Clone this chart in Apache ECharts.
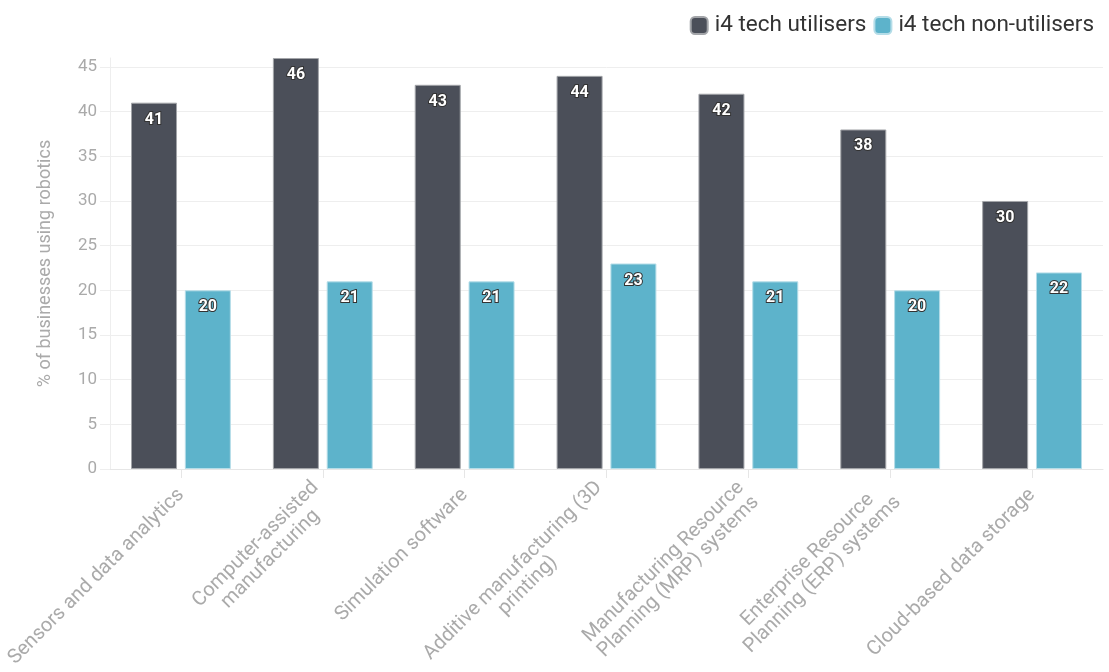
<!DOCTYPE html>
<html>
<head>
<meta charset="utf-8">
<script src="https://cdn.jsdelivr.net/npm/echarts@6/dist/echarts.min.js"></script>
<style>
  html, body { margin: 0; padding: 0; background: #ffffff; }
  #chart { width: 1109px; height: 672px; }
</style>
</head>
<body>
<div id="chart"></div>
<script>
// Technologies (line breaks where the axis labels wrap)
const categories = [
  'Sensors and data analytics',
  'Computer-assisted\nmanufacturing',
  'Simulation software',
  'Additive manufacturing (3D\nprinting)',
  'Manufacturing Resource\nPlanning (MRP) systems',
  'Enterprise Resource\nPlanning (ERP) systems',
  'Cloud-based data storage'
];
const seriesNames = ['i4 tech utilisers', 'i4 tech non-utilisers'];
const utilisers = [41, 46, 43, 44, 42, 38, 30];
const nonUtilisers = [20, 21, 21, 23, 21, 20, 22];
const yTicks = [0, 5, 10, 15, 20, 25, 30, 35, 40, 45];

const FONT = 'Roboto, "Noto Sans", sans-serif';
const chart = echarts.init(document.getElementById('chart'), null, { renderer: 'canvas' });

const valueLabel = {
  show: true,
  position: 'insideTop',
  distance: 9,
  color: '#ffffff',
  fontFamily: FONT,
  fontWeight: 'bold',
  fontSize: 16,
  textBorderColor: '#333333',
  textBorderWidth: 2
};

chart.setOption({
  animation: false,
  textStyle: { fontFamily: FONT },
  legend: {
    data: seriesNames,
    right: 10,
    top: 9,
    icon: 'roundRect',
    itemWidth: 17,
    itemHeight: 17,
    itemGap: 7,
    textStyle: { color: '#333333', fontSize: 22.5, fontFamily: FONT, padding: [0, 0, 0, 2] }
  },
  grid: {
    left: 110, right: 6, top: 58, bottom: 203,
    containLabel: false,
    outerBoundsMode: 'none'
  },
  xAxis: {
    type: 'category',
    data: categories,
    axisLine: { show: true, lineStyle: { color: '#e6e6e6', width: 1 } },
    axisTick: { show: true, alignWithLabel: true, length: 9, lineStyle: { color: '#e6e6e6' } },
    axisLabel: {
      interval: 0,
      rotate: 45,
      margin: 23,
      color: '#aaaaaa',
      fontSize: 20,
      fontFamily: FONT,
      lineHeight: 21,
      formatter: function (v) {
        return v.split('\n').map(function (l) { return '{c|' + l + '}'; }).join('\n');
      },
      rich: { c: { align: 'center', color: '#aaaaaa', fontSize: 20, fontFamily: FONT, lineHeight: 21 } }
    },
    splitLine: { show: false }
  },
  yAxis: {
    type: 'value',
    min: yTicks[0],
    max: 46,
    interval: yTicks[1] - yTicks[0],
    name: '% of businesses using robotics',
    nameLocation: 'middle',
    nameGap: 56,
    nameTextStyle: { color: '#aaaaaa', fontSize: 18, fontFamily: FONT },
    axisLine: { show: true, lineStyle: { color: '#eeeeee', width: 1 } },
    axisTick: { show: true, length: 10, inside: false, lineStyle: { color: '#eeeeee' } },
    axisLabel: {
      color: '#aaaaaa',
      fontSize: 17,
      fontFamily: FONT,
      margin: 13,
      showMaxLabel: false,
      formatter: function (v) { return yTicks.indexOf(v) >= 0 ? String(v) : ''; }
    },
    splitLine: { show: true, showMaxLine: false, lineStyle: { color: '#eeeeee', width: 1 } }
  },
  series: [
    {
      name: seriesNames[0],
      type: 'bar',
      data: utilisers,
      barWidth: 46,
      barGap: '17%',
      itemStyle: { color: '#4b4f59', borderColor: '#a3a5a9', borderWidth: 1 },
      label: valueLabel
    },
    {
      name: seriesNames[1],
      type: 'bar',
      data: nonUtilisers,
      barWidth: 46,
      itemStyle: { color: '#5db3cb', borderColor: '#b5dde8', borderWidth: 1 },
      label: valueLabel
    }
  ]
});
</script>
</body>
</html>
